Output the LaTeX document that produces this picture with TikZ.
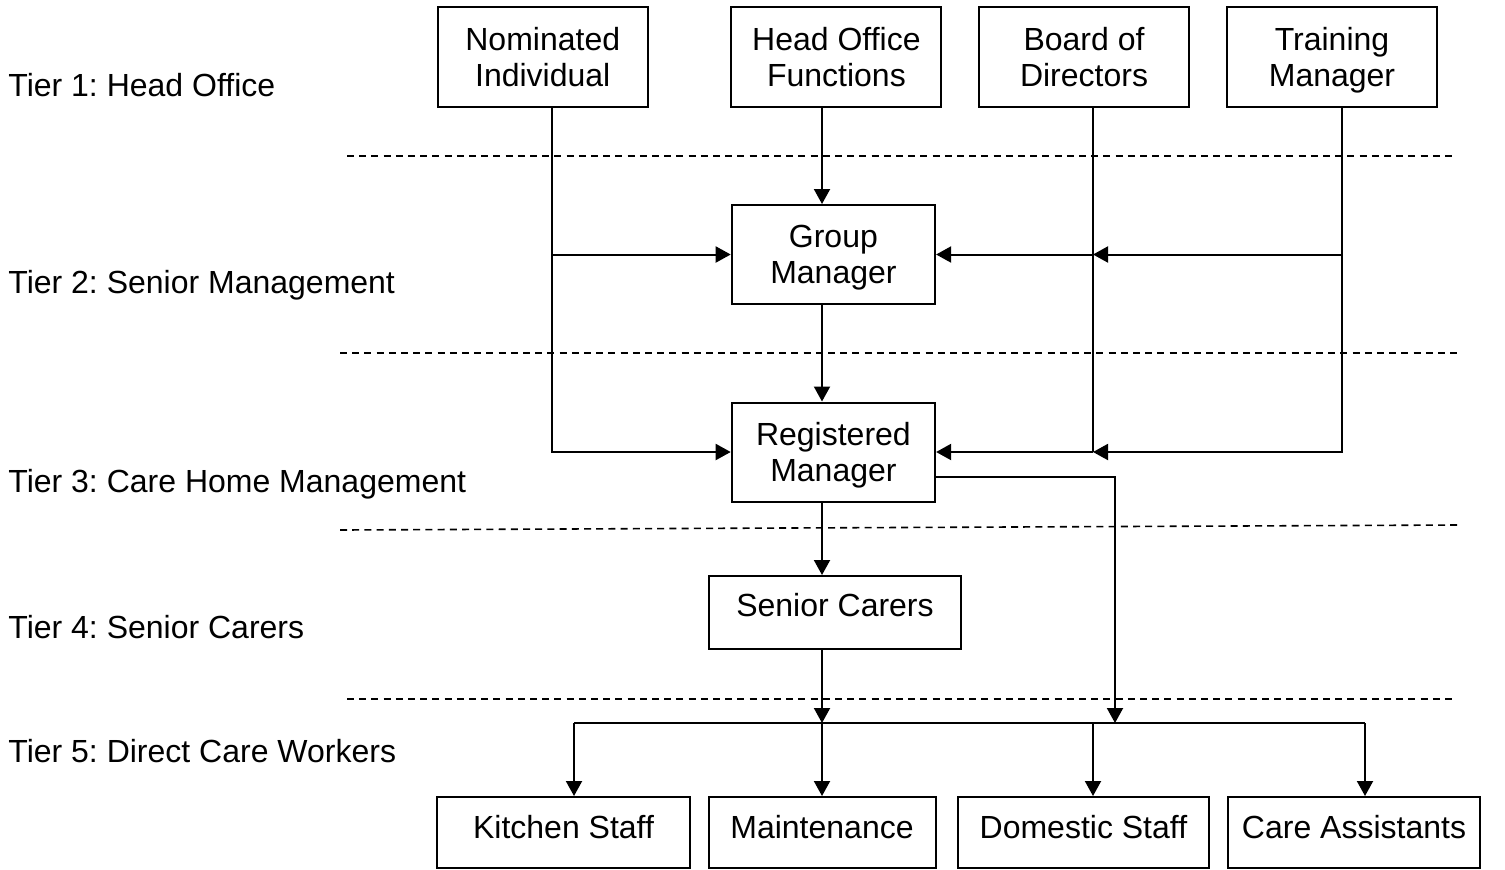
\documentclass[tikz,border=0pt]{standalone}
\usepackage{fontspec}
\setmainfont{Liberation Sans}
\usetikzlibrary{arrows.meta}
\frenchspacing

% a line whose descenders do not count towards the box depth
\newcommand{\nodepth}[1]{\raisebox{0pt}[\height][0pt]{#1}}

\begin{document}
\begin{tikzpicture}[x=0.5pt,y=-0.5pt,
  font=\fontsize{16}{18}\selectfont,
  box/.style={draw,line width=1pt,rectangle,align=center,inner sep=0pt},
  topbox/.style={box,minimum width=105pt,minimum height=49.75pt},
  mgrbox/.style={box,minimum width=101.7pt,minimum height=49.5pt},
  staffbox/.style={box,minimum height=35.5pt},
  tierlabel/.style={anchor=base west,inner sep=0pt},
  link/.style={line width=1pt},
  arr/.style={link,-{Triangle[length=7.5pt,width=8pt]}},
  tierline/.style={line width=0.8pt,dash pattern=on 3.5pt off 2.6pt}]

\useasboundingbox (0,0) rectangle (1505,869);

% tier captions
\node[tierlabel] (t1) at (8,96)  {Tier 1: Head Office};
\node[tierlabel] (t2) at (8,293) {Tier 2: Senior Management};
\node[tierlabel] (t3) at (8,492) {Tier 3: Care Home Management};
\node[tierlabel] (t4) at (8,638) {Tier 4: Senior Carers};
\node[tierlabel] (t5) at (8,762) {Tier 5: Direct Care Workers};

% tier separators
\draw[tierline] (347,156) -- (1452,156);
\draw[tierline] (340,353) -- (1458,353);
\draw[tierline] (340,530) -- (1458,525);
\draw[tierline] (347,699) -- (1452,699);

% head office
\node[topbox] (nom) at (542.75,56.75) {Nominated\\\nodepth{Individual}};
\node[topbox] (hof) at (836.4,56.75)  {Head Office\\\nodepth{Functions}};
\node[topbox] (bod) at (1084,56.75)   {Board of\\\nodepth{Directors}};
\node[topbox] (trn) at (1332,56.75)   {Training\\\nodepth{Manager}};

% management
\node[mgrbox] (gm) at (833.4,254.5) {Group\\\nodepth{Manager}};
\node[mgrbox] (rm) at (833.4,452)   {Registered\\\nodepth{Manager}};

% senior carers
\node[box,minimum width=126pt,minimum height=36.5pt] (sc) at (835,612.5)
  {\raisebox{3.75pt}[\height][\depth]{Senior Carers}};

% direct care workers
\node[staffbox,minimum width=126.5pt] (kit) at (563.5,832.5)
  {\raisebox{2.75pt}[\height][\depth]{Kitchen Staff}};
\node[staffbox,minimum width=113.5pt] (mnt) at (822,832.5)
  {\raisebox{2.75pt}[\height][\depth]{Maintenance}};
\node[staffbox,minimum width=125.7pt] (dom) at (1083.4,832.5)
  {\raisebox{2.75pt}[\height][\depth]{Domestic Staff}};
\node[staffbox,minimum width=126pt] (car) at (1354,832.5)
  {\raisebox{2.75pt}[\height][\depth]{Care Assistants}};

% vertical runs
\coordinate (niX) at (552,0);
\coordinate (spine) at (822,0);
\coordinate (bdX) at (1093,0);
\coordinate (tmX) at (1342,0);
\coordinate (busR) at (1115,723);
\coordinate (dk) at (574,723);
\coordinate (dm) at (822,723);
\coordinate (dd) at (1093,723);
\coordinate (dc) at (1365,723);

% nominated individual
\draw[arr] (nom.south -| niX) -- (rm.west -| niX) -- (rm.west);
\draw[arr] (gm.west -| niX) -- (gm.west);

% head office functions down the spine
\draw[arr] (hof.south -| spine) -- (gm.north -| spine);
\draw[arr] (gm.south -| spine) -- (rm.north -| spine);
\draw[arr] (rm.south -| spine) -- (sc.north -| spine);
\draw[arr] (sc.south -| spine) -- (dm);

% board of directors and training manager
\draw[link] (bod.south -| bdX) -- (rm.east -| bdX);
\draw[arr] (trn.south -| tmX) -- (rm.east -| tmX) -- (rm.east -| bdX);
\draw[arr] (gm.east -| tmX) -- (gm.east -| bdX);
\draw[arr] (gm.east -| bdX) -- (gm.east);
\draw[arr] (rm.east -| bdX) -- (rm.east);

% registered manager to the staff bus
\draw[arr] ([yshift=-12.5pt]rm.east) -| (busR);

% staff bus
\draw[link] (dk) -- (dc);
\draw[arr] (dk) -- (kit.north -| dk);
\draw[arr] (dm) -- (mnt.north -| dm);
\draw[arr] (dd) -- (dom.north -| dd);
\draw[arr] (dc) -- (car.north -| dc);

\end{tikzpicture}
\end{document}
